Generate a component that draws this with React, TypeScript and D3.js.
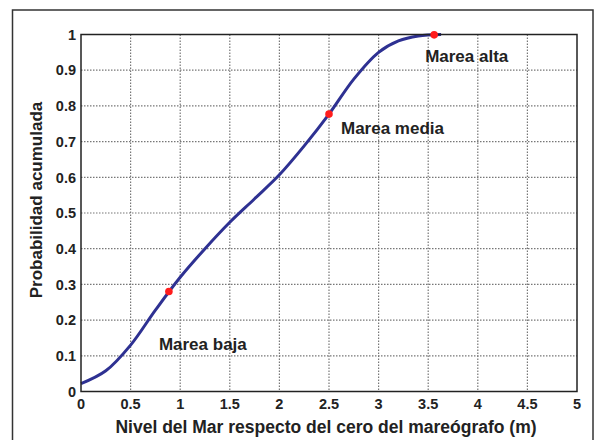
import React from 'react';
import { scaleLinear, line, curveCatmullRom } from 'd3';

// curve
const nivel = [0, 0.25, 0.5, 0.75, 1, 1.25, 1.5, 1.75, 2, 2.25, 2.5, 2.75, 3, 3.2, 3.4, 3.63];
const prob = [0.022, 0.058, 0.13, 0.228, 0.32, 0.4, 0.474, 0.54, 0.607, 0.688, 0.777, 0.875, 0.95, 0.982, 0.996, 1.0];

const mareaNames = ['Marea baja', 'Marea media', 'Marea alta'];
const mareaX = [0.886, 2.5, 3.56];
const mareaY = [0.28, 0.777, 0.999];

const xTicks = [0, 0.5, 1, 1.5, 2, 2.5, 3, 3.5, 4, 4.5, 5];
const yTicks = [0, 0.1, 0.2, 0.3, 0.4, 0.5, 0.6, 0.7, 0.8, 0.9, 1];

const W = 596, H = 440;
const left = 81, right = 577, top = 34.5, bottom = 391.5;
const font = '"Liberation Sans", Arial, sans-serif';

// label offsets from their point (px)
const labelDx = [-10, 12, -9];
const labelDy = [58, 20, 27];

const App = () => {
  const x = scaleLinear().domain([0, 5]).range([left, right]);
  const y = scaleLinear().domain([0, 1]).range([bottom, top]);

  const pts = nivel.map((v, i) => [v, prob[i]] as [number, number]);
  const path = line<[number, number]>()
    .x(d => x(d[0]))
    .y(d => y(d[1]))
    .curve(curveCatmullRom.alpha(0.5))(pts);

  return (
    <svg width={W} height={H} style={{ position: 'absolute', left: 0, top: 0, background: '#fff' }}>
      <rect x={12.5} y={10} width={580.5} height={440} fill="#fff" stroke="#333" strokeWidth={1.5} />

      {xTicks.slice(1, -1).map(t => (
        <line key={'gx' + t} x1={x(t)} x2={x(t)} y1={top} y2={bottom}
          stroke="#777" strokeWidth={1.2} strokeDasharray="1.5,1.5" />
      ))}
      {yTicks.slice(1, -1).map(t => (
        <line key={'gy' + t} x1={left} x2={right} y1={y(t)} y2={y(t)}
          stroke="#777" strokeWidth={1.2} strokeDasharray="1.5,1.5" />
      ))}

      <path d={path || ''} fill="none" stroke="#2e3192" strokeWidth={3} />

      <rect x={left} y={top} width={right - left} height={bottom - top} fill="none" stroke="#222" strokeWidth={1.5} />

      {mareaX.map((v, i) => (
        <g key={mareaNames[i]}>
          <circle cx={x(v)} cy={y(mareaY[i])} r={3.8} fill="#ff1c1c" />
          <text x={x(v) + labelDx[i]} y={y(mareaY[i]) + labelDy[i]}
            fontFamily={font} fontWeight="bold" fontSize={17} fill="#222">{mareaNames[i]}</text>
        </g>
      ))}

      {xTicks.map(t => (
        <text key={'tx' + t} x={x(t)} y={408.5} textAnchor="middle"
          fontFamily={font} fontWeight="bold" fontSize={14.5} fill="#222">{t}</text>
      ))}
      {yTicks.map(t => (
        <text key={'ty' + t} x={76} y={y(t)} dy="0.36em" textAnchor="end"
          fontFamily={font} fontWeight="bold" fontSize={14.5} fill="#222">{t}</text>
      ))}

      <text x={326} y={433} textAnchor="middle" fontFamily={font} fontWeight="bold" fontSize={17.5} fill="#222">
        Nivel del Mar respecto del cero del mareógrafo (m)
      </text>
      <text transform={`translate(42,200) rotate(-90)`} textAnchor="middle"
        fontFamily={font} fontWeight="bold" fontSize={17} fill="#222">
        Probabilidad acumulada
      </text>
    </svg>
  );
};

export default App;
